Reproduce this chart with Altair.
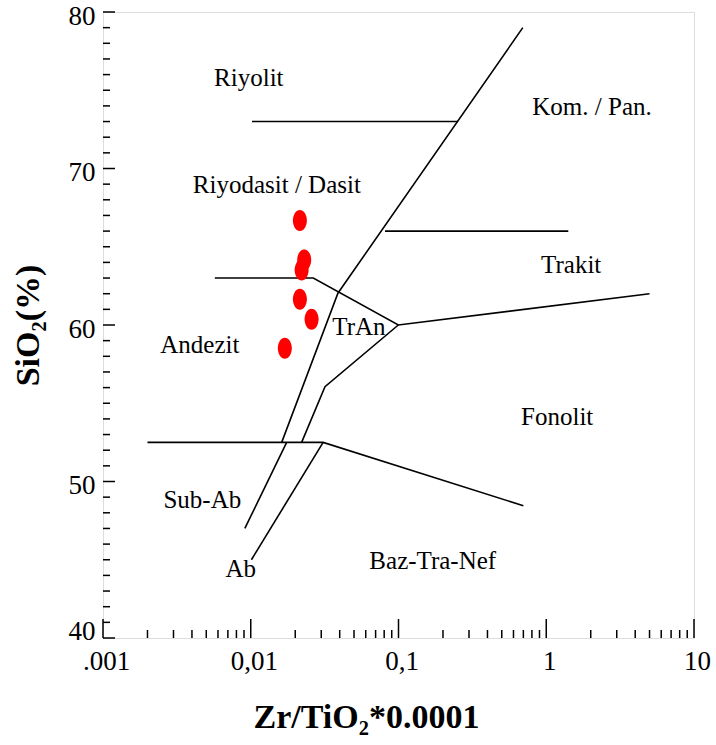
import altair as alt
import pandas as pd

# ---- axis ticks / labels ----
x_tick_values = [0.001, 0.01, 0.1, 1, 10]
x_tick_labels = [".001", "0,01", "0,1", "1", "10"]
x_minor_ticks = [0.002, 0.003, 0.004, 0.005, 0.006, 0.007, 0.008, 0.009,
                 0.02, 0.03, 0.04, 0.05, 0.06, 0.07, 0.08, 0.09,
                 0.2, 0.3, 0.4, 0.5, 0.6, 0.7, 0.8, 0.9,
                 2, 3, 4, 5, 6, 7, 8, 9]
y_tick_values = [40, 50, 60, 70, 80]
y_minor_ticks = [41, 42, 43, 44, 45, 46, 47, 48, 49,
                 51, 52, 53, 54, 55, 56, 57, 58, 59,
                 61, 62, 63, 64, 65, 66, 67, 68, 69,
                 71, 72, 73, 74, 75, 76, 77, 78, 79]

# ---- field boundaries (Zr/TiO2*0.0001, SiO2) ----
diag_upper_x = [0.694, 0.0389, 0.0162]
diag_upper_y = [79.0, 62.03, 52.5]
subab_x = [0.0175, 0.00912]
subab_y = [52.5, 47.0]
riyolit_x = [0.0102, 0.253]
riyolit_y = [73.0, 73.0]
trakit_x = [0.081, 1.41]
trakit_y = [66.0, 66.0]
andezit_top_x = [0.00571, 0.0265, 0.0997, 5.0]
andezit_top_y = [63.0, 63.0, 60.0, 62.0]
tran_low_x = [0.0997, 0.0318, 0.0221]
tran_low_y = [60.0, 56.06, 52.5]
base_x = [0.002, 0.0309, 0.70]
base_y = [52.5, 52.5, 48.45]
ab_x = [0.0309, 0.0101]
ab_y = [52.5, 45.0]

# ---- samples ----
sample_x = [0.0215, 0.0230, 0.0221, 0.0215, 0.0258, 0.0170]
sample_y = [66.67, 64.15, 63.51, 61.64, 60.36, 58.51]

# ---- field names ----
label_text = ["Riyolit", "Kom. / Pan.", "Riyodasit / Dasit", "Trakit", "TrAn",
              "Andezit", "Fonolit", "Sub-Ab", "Ab", "Baz-Tra-Nef"]
label_x = [0.0097, 2.04, 0.01502, 1.475, 0.054, 0.00452, 1.186, 0.0047, 0.00857, 0.1706]
label_y = [75.27, 73.42, 68.42, 63.30, 59.36, 58.23, 53.61, 48.29, 43.92, 44.38]

# build tables
rows = []
for name, xs, ys in [("diag_upper", diag_upper_x, diag_upper_y),
                     ("subab", subab_x, subab_y),
                     ("riyolit", riyolit_x, riyolit_y),
                     ("trakit", trakit_x, trakit_y),
                     ("andezit_top", andezit_top_x, andezit_top_y),
                     ("tran_low", tran_low_x, tran_low_y),
                     ("base", base_x, base_y),
                     ("ab", ab_x, ab_y)]:
    for i, (a, b) in enumerate(zip(xs, ys)):
        rows.append({"line": name, "i": i, "x": a, "y": b})
lines_df = pd.DataFrame(rows)
pts_df = pd.DataFrame({"x": sample_x, "y": sample_y})
lab_df = pd.DataFrame({"t": label_text, "x": label_x, "y": label_y})
xmaj_df = pd.DataFrame({"x": x_tick_values})
xmin_df = pd.DataFrame({"x": x_minor_ticks})
ymaj_df = pd.DataFrame({"y": y_tick_values})
ymin_df = pd.DataFrame({"y": y_minor_ticks})

W, H = 591, 626
FONT = "Times New Roman, Liberation Serif, DejaVu Serif, serif"

label_expr = " : ".join(
    f"datum.value == {v} ? '{l}'" for v, l in zip(x_tick_values, x_tick_labels)
) + " : ''"

xscale = alt.Scale(type="log", domain=[0.001, 10], nice=False)
yscale = alt.Scale(domain=[40, 80], nice=False, zero=False)

xaxis = alt.Axis(values=x_tick_values, labelExpr=label_expr, ticks=False, domain=False,
                 grid=False, labelFont=FONT, labelFontSize=27, labelColor="black",
                 labelPadding=10, labelFlush=False, labelOffset=3,
                 title="Zr/TiO₂*0.0001", titleFont=FONT, titleFontSize=34,
                 titleFontWeight="bold", titleColor="black",
                 titleX=263, titleY=89, titleBaseline="alphabetic", titleAnchor="start",
                 titleAlign="center")
yaxis = alt.Axis(values=y_tick_values, ticks=False, domain=False, grid=False,
                 labelFont=FONT, labelFontSize=27, labelColor="black",
                 labelPadding=8, labelFlush=False,
                 labelOffset={"condition": {"test": "datum.value == 40", "value": -7},
                              "value": 4},
                 title="SiO₂(%)", titleFont=FONT, titleFontSize=34,
                 titleFontWeight="bold", titleColor="black", titleAngle=-90,
                 titleX=-65, titleY=313, titleBaseline="alphabetic", titleAlign="center")

X = alt.X("x:Q", scale=xscale, axis=xaxis)
Y = alt.Y("y:Q", scale=yscale, axis=yaxis)

lines = alt.Chart(lines_df).mark_line(color="black", strokeWidth=1.6).encode(
    x=X, y=Y, detail="line:N", order="i:Q")

points = alt.Chart(pts_df).mark_point(
    filled=True, color="#ff0000", opacity=1, size=441, strokeWidth=0,
    shape="M0,-1A0.667,1,0,1,1,0,1A0.667,1,0,1,1,0,-1Z").encode(x=X, y=Y)

labels = alt.Chart(lab_df).mark_text(
    font=FONT, fontSize=25, color="black", align="center", baseline="alphabetic"
).encode(x=X, y=Y, text="t:N")

xmaj = alt.Chart(xmaj_df).mark_rule(color="black", strokeWidth=1.5).encode(
    x=X, y=alt.value(H), y2=alt.value(H - 19))
xmin = alt.Chart(xmin_df).mark_rule(color="black", strokeWidth=1.5).encode(
    x=X, y=alt.value(H), y2=alt.value(H - 8))
ymaj = alt.Chart(ymaj_df).mark_rule(color="black", strokeWidth=1.5).encode(
    y=Y, x=alt.value(0), x2=alt.value(12))
ymin = alt.Chart(ymin_df).mark_rule(color="black", strokeWidth=1.5).encode(
    y=Y, x=alt.value(0), x2=alt.value(7))

chart = alt.layer(lines, xmaj, xmin, ymaj, ymin, labels, points).properties(
    width=W, height=H,
    autosize=alt.AutoSizeParams(type="none"),
    padding={"left": 103, "top": 12, "right": 22, "bottom": 107},
).configure_view(stroke="black", strokeWidth=2).configure(background="white")

chart.save("out.html", embed_options={"renderer": "svg", "actions": False})
